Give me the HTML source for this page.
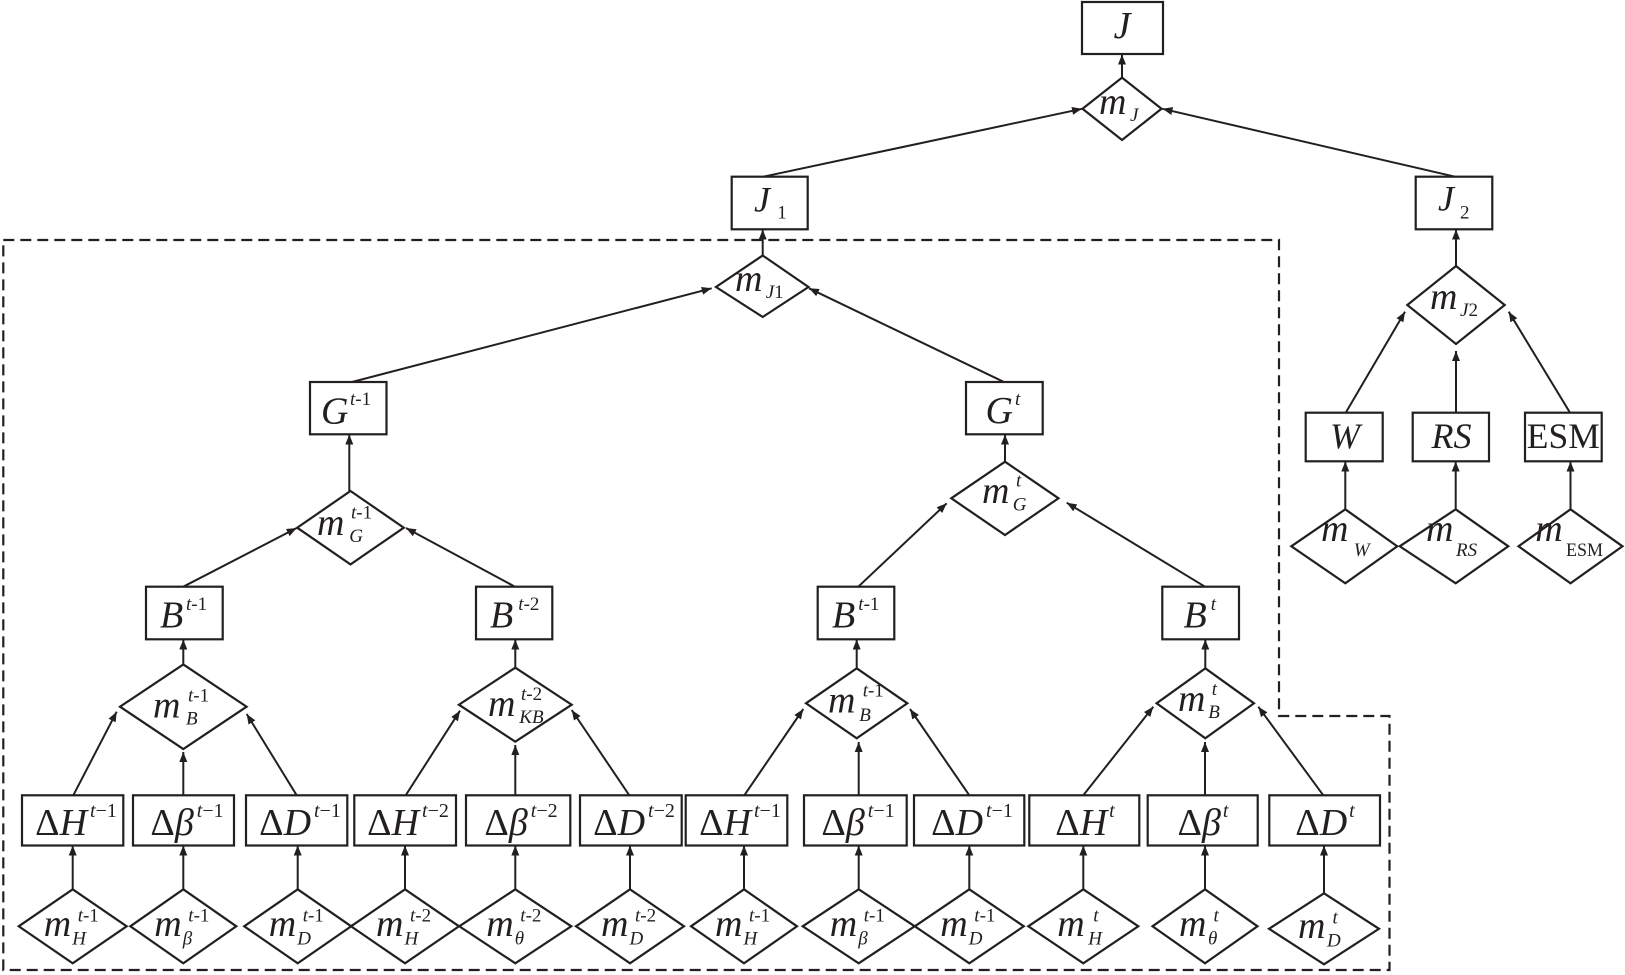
<!DOCTYPE html>
<html>
<head>
<meta charset="utf-8">
<style>
html,body{margin:0;padding:0;background:#fff;}
svg{display:block;}
text{font-family:"Liberation Serif","DejaVu Serif",serif;fill:#231f20;}
.n{fill:#fff;stroke:#231f20;stroke-width:2.2;}
.l{stroke:#231f20;stroke-width:2;fill:none;}
.d{stroke:#231f20;stroke-width:2.2;fill:none;stroke-dasharray:11 6;}
.i{font-style:italic;}
.m{font-size:38px;font-style:italic;}
.s{font-size:19px;}
.bx{font-size:38px;}
.gb{font-size:38px;}
</style>
</head>
<body>
<svg width="1625" height="975" viewBox="0 0 1625 975" xmlns="http://www.w3.org/2000/svg">
<defs>
<marker id="a" markerUnits="userSpaceOnUse" markerWidth="10" markerHeight="8" refX="10" refY="4" orient="auto" viewBox="0 0 10 8">
<path d="M0,0L10,4L0,8z" fill="#231f20"/>
</marker>
</defs>
<rect x="0" y="0" width="1625" height="975" fill="#fff"/>

<path class="d" d="M3.3,240 H1279 V716 H1389.5 V970 H3.3 Z"/>

<g class="l">
<line x1="1122" y1="77.6" x2="1122" y2="54.5" marker-end="url(#a)"/>
<line x1="763.3" y1="176.7" x2="1082" y2="108.8" marker-end="url(#a)"/>
<line x1="1455" y1="176.7" x2="1162.5" y2="108.8" marker-end="url(#a)"/>
<line x1="762.7" y1="255.5" x2="762.7" y2="229.5" marker-end="url(#a)"/>
<line x1="352" y1="382" x2="711.7" y2="288.3" marker-end="url(#a)"/>
<line x1="1003.3" y1="381.7" x2="809" y2="288.3" marker-end="url(#a)"/>
<line x1="349.3" y1="491" x2="349.3" y2="434.5" marker-end="url(#a)"/>
<line x1="1005" y1="461.7" x2="1005" y2="434.5" marker-end="url(#a)"/>
<line x1="183.3" y1="586.7" x2="296.7" y2="528" marker-end="url(#a)"/>
<line x1="515" y1="586.7" x2="406" y2="528" marker-end="url(#a)"/>
<line x1="858.3" y1="586.7" x2="946.7" y2="503.3" marker-end="url(#a)"/>
<line x1="1205" y1="586.7" x2="1066.7" y2="502.7" marker-end="url(#a)"/>
<line x1="183.3" y1="664.4" x2="183.3" y2="639.5" marker-end="url(#a)"/>
<line x1="515.3" y1="667.7" x2="515.3" y2="639.5" marker-end="url(#a)"/>
<line x1="856.7" y1="668.3" x2="856.7" y2="639.5" marker-end="url(#a)"/>
<line x1="1205.3" y1="668.3" x2="1205.3" y2="639.5" marker-end="url(#a)"/>

<line x1="73.3" y1="795.3" x2="116.7" y2="711.7" marker-end="url(#a)"/>
<line x1="183.3" y1="795.3" x2="183.3" y2="752" marker-end="url(#a)"/>
<line x1="296.7" y1="795.3" x2="246.7" y2="714" marker-end="url(#a)"/>
<line x1="405.7" y1="795.3" x2="460" y2="710.7" marker-end="url(#a)"/>
<line x1="515.3" y1="795.3" x2="515.3" y2="745" marker-end="url(#a)"/>
<line x1="629.3" y1="795.3" x2="571.7" y2="710" marker-end="url(#a)"/>
<line x1="744.3" y1="795.3" x2="803.3" y2="709" marker-end="url(#a)"/>
<line x1="858.7" y1="795.3" x2="858.7" y2="742" marker-end="url(#a)"/>
<line x1="969.3" y1="795.3" x2="910" y2="709" marker-end="url(#a)"/>
<line x1="1083.3" y1="795.3" x2="1153.3" y2="706.7" marker-end="url(#a)"/>
<line x1="1205" y1="795.3" x2="1205" y2="742" marker-end="url(#a)"/>
<line x1="1323.3" y1="795.3" x2="1258.3" y2="706.7" marker-end="url(#a)"/>

<line x1="72.7" y1="889.3" x2="72.7" y2="845.5" marker-end="url(#a)"/>
<line x1="183.3" y1="889.3" x2="183.3" y2="845.5" marker-end="url(#a)"/>
<line x1="297.7" y1="889.3" x2="297.7" y2="845.5" marker-end="url(#a)"/>
<line x1="405" y1="889.3" x2="405" y2="845.5" marker-end="url(#a)"/>
<line x1="515.3" y1="889.3" x2="515.3" y2="845.5" marker-end="url(#a)"/>
<line x1="630" y1="889.3" x2="630" y2="845.5" marker-end="url(#a)"/>
<line x1="744" y1="889.3" x2="744" y2="845.5" marker-end="url(#a)"/>
<line x1="858.7" y1="889.3" x2="858.7" y2="845.5" marker-end="url(#a)"/>
<line x1="969.3" y1="889.3" x2="969.3" y2="845.5" marker-end="url(#a)"/>
<line x1="1083.3" y1="889.3" x2="1083.3" y2="845.5" marker-end="url(#a)"/>
<line x1="1205" y1="889.3" x2="1205" y2="845.5" marker-end="url(#a)"/>
<line x1="1324" y1="893.3" x2="1324" y2="845.5" marker-end="url(#a)"/>

<line x1="1456" y1="266" x2="1456" y2="229.5" marker-end="url(#a)"/>
<line x1="1345.7" y1="412.7" x2="1405" y2="311.7" marker-end="url(#a)"/>
<line x1="1456" y1="412.7" x2="1456" y2="351" marker-end="url(#a)"/>
<line x1="1570" y1="412.7" x2="1508.7" y2="311.7" marker-end="url(#a)"/>
<line x1="1345.3" y1="509.3" x2="1345.3" y2="461.5" marker-end="url(#a)"/>
<line x1="1455.7" y1="509.3" x2="1455.7" y2="461.5" marker-end="url(#a)"/>
<line x1="1570.5" y1="509.3" x2="1570.5" y2="461.5" marker-end="url(#a)"/>
</g>

<rect class="n" x="1082" y="2" width="81" height="52"/>
<rect class="n" x="731.7" y="176.7" width="76" height="52.6"/>
<rect class="n" x="1415.7" y="176.7" width="76.6" height="52.6"/>
<rect class="n" x="310" y="382" width="76.5" height="52.3"/>
<rect class="n" x="966" y="382" width="76.7" height="52.3"/>
<rect class="n" x="146" y="586.7" width="76.7" height="52.6"/>
<rect class="n" x="476" y="586.7" width="76.3" height="52.6"/>
<rect class="n" x="817.7" y="586.7" width="76.6" height="52.6"/>
<rect class="n" x="1162.3" y="586.7" width="76.7" height="52.6"/>
<rect class="n" x="1305.7" y="412.7" width="77" height="48.6"/>
<rect class="n" x="1412.7" y="412.7" width="76.3" height="48.6"/>
<rect class="n" x="1525" y="412.7" width="76.7" height="48.6"/>

<rect class="n" x="22" y="795.3" width="101.3" height="50.2"/>
<rect class="n" x="133" y="795.3" width="101" height="50.2"/>
<rect class="n" x="246" y="795.3" width="101.3" height="50.2"/>
<rect class="n" x="354.3" y="795.3" width="101.7" height="50.2"/>
<rect class="n" x="466" y="795.3" width="104.3" height="50.2"/>
<rect class="n" x="580" y="795.3" width="101.7" height="50.2"/>
<rect class="n" x="685.7" y="795.3" width="101.6" height="50.2"/>
<rect class="n" x="804" y="795.3" width="102.7" height="50.2"/>
<rect class="n" x="914" y="795.3" width="110.3" height="50.2"/>
<rect class="n" x="1029.3" y="795.3" width="110" height="50.2"/>
<rect class="n" x="1147.7" y="795.3" width="110" height="50.2"/>
<rect class="n" x="1269.3" y="795.3" width="110.7" height="50.2"/>

<polygon class="n" points="1122,77.6 1161.5,108.8 1122,140 1082.5,108.8"/>
<polygon class="n" points="762.7,255.5 808.5,287 762.7,317 716,287"/>
<polygon class="n" points="1456,266 1504.7,305 1456,344 1407.3,305"/>
<polygon class="n" points="350.5,491 403.8,527.7 350.5,564.4 297.2,527.7"/>
<polygon class="n" points="1005,461.7 1058.5,498.3 1005,535 951.3,498.3"/>
<polygon class="n" points="183.3,664.4 246.6,706.7 183.3,749 120,706.7"/>
<polygon class="n" points="515.3,667.7 571.7,704.7 515.3,741.7 458.9,704.7"/>
<polygon class="n" points="856.7,668.3 907.3,703.3 856.7,738.3 806,703.3"/>
<polygon class="n" points="1205.3,668.3 1254,703.3 1205.3,738.3 1156.6,703.3"/>

<polygon class="n" points="72.7,889.3 126.7,926.3 72.7,963.3 18.7,926.3"/>
<polygon class="n" points="183.3,889.3 236.3,926.3 183.3,963.3 130.3,926.3"/>
<polygon class="n" points="297.7,889.3 351.2,926.3 297.7,963.3 244.2,926.3"/>
<polygon class="n" points="405,889.3 459,926.3 405,963.3 351,926.3"/>
<polygon class="n" points="515.3,889.3 571.3,926.3 515.3,963.3 459.3,926.3"/>
<polygon class="n" points="630,889.3 684,926.3 630,963.3 576,926.3"/>
<polygon class="n" points="744,889.3 797,926.3 744,963.3 691,926.3"/>
<polygon class="n" points="858.7,889.3 914.7,926.3 858.7,963.3 802.7,926.3"/>
<polygon class="n" points="969.3,889.3 1023.8,926.3 969.3,963.3 914.8,926.3"/>
<polygon class="n" points="1083.3,889.3 1138.3,926.3 1083.3,963.3 1028.3,926.3"/>
<polygon class="n" points="1205,889.3 1257.5,926.3 1205,963.3 1152.5,926.3"/>
<polygon class="n" points="1324,893.3 1379,928.8 1324,964.3 1269,928.8"/>

<polygon class="n" points="1345.3,509.3 1397.3,546.3 1345.3,583.3 1291.3,546.3"/>
<polygon class="n" points="1455.7,509.3 1508.3,546.3 1455.7,583.3 1399.7,546.3"/>
<polygon class="n" points="1570.5,509.3 1622.5,546.3 1570.5,583.3 1518.5,546.3"/>

<text x="1122" y="38" class="bx i" text-anchor="middle">J</text>
<text x="754" y="211.7" class="i" font-size="36">J</text>
<text x="777.3" y="218.3" class="s">1</text>
<text x="1438" y="210.5" class="i" font-size="36">J</text>
<text x="1460" y="218.3" class="s">2</text>

<text x="321" y="423.3" class="gb i">G</text>
<text x="350" y="405" class="s"><tspan class="i">t</tspan>-1</text>
<text x="985.5" y="423" class="gb i">G</text>
<text x="1015" y="405" class="s i">t</text>

<text x="160" y="627.7" class="gb i">B</text>
<text x="186" y="610" class="s"><tspan class="i">t</tspan>-1</text>
<text x="490" y="627.7" class="gb i">B</text>
<text x="518.3" y="610" class="s"><tspan class="i">t</tspan>-2</text>
<text x="832" y="627.7" class="gb i">B</text>
<text x="858.3" y="610" class="s"><tspan class="i">t</tspan>-1</text>
<text x="1183.5" y="627.7" class="gb i">B</text>
<text x="1210.7" y="610" class="s i">t</text>

<text x="1345" y="448" class="i" font-size="36" text-anchor="middle">W</text>
<text x="1451.5" y="448" class="i" font-size="36" text-anchor="middle">RS</text>
<text x="1563.3" y="448" font-size="36" text-anchor="middle" textLength="73" lengthAdjust="spacingAndGlyphs">ESM</text>

<text x="76" y="835" class="bx" text-anchor="middle">Δ<tspan class="i">H</tspan><tspan font-size="20" dx="3" dy="-18"><tspan class="i">t</tspan>−1</tspan></text>
<text x="187" y="835" class="bx" text-anchor="middle">Δ<tspan class="i">β</tspan><tspan font-size="20" dx="3" dy="-18"><tspan class="i">t</tspan>−1</tspan></text>
<text x="300" y="835" class="bx" text-anchor="middle">Δ<tspan class="i">D</tspan><tspan font-size="20" dx="3" dy="-18"><tspan class="i">t</tspan>−1</tspan></text>
<text x="408" y="835" class="bx" text-anchor="middle">Δ<tspan class="i">H</tspan><tspan font-size="20" dx="3" dy="-18"><tspan class="i">t</tspan>−2</tspan></text>
<text x="521" y="835" class="bx" text-anchor="middle">Δ<tspan class="i">β</tspan><tspan font-size="20" dx="3" dy="-18"><tspan class="i">t</tspan>−2</tspan></text>
<text x="634" y="835" class="bx" text-anchor="middle">Δ<tspan class="i">D</tspan><tspan font-size="20" dx="3" dy="-18"><tspan class="i">t</tspan>−2</tspan></text>
<text x="740" y="835" class="bx" text-anchor="middle">Δ<tspan class="i">H</tspan><tspan font-size="20" dx="3" dy="-18"><tspan class="i">t</tspan>−1</tspan></text>
<text x="858" y="835" class="bx" text-anchor="middle">Δ<tspan class="i">β</tspan><tspan font-size="20" dx="3" dy="-18"><tspan class="i">t</tspan>−1</tspan></text>
<text x="972" y="835" class="bx" text-anchor="middle">Δ<tspan class="i">D</tspan><tspan font-size="20" dx="3" dy="-18"><tspan class="i">t</tspan>−1</tspan></text>
<text x="1085" y="835" class="bx" text-anchor="middle">Δ<tspan class="i">H</tspan><tspan font-size="20" class="i" dx="2" dy="-18">t</tspan></text>
<text x="1203" y="835" class="bx" text-anchor="middle">Δ<tspan class="i">β</tspan><tspan font-size="20" class="i" dx="2" dy="-18">t</tspan></text>
<text x="1325" y="835" class="bx" text-anchor="middle">Δ<tspan class="i">D</tspan><tspan font-size="20" class="i" dx="2" dy="-18">t</tspan></text>

<text x="1099" y="114" class="m" font-size="36">m</text>
<text x="1130" y="121" class="s i">J</text>
<text x="735" y="291" class="m" font-size="36">m</text>
<text x="765.7" y="298" class="s"><tspan class="i">J</tspan>1</text>
<text x="1430" y="309" class="m" font-size="36">m</text>
<text x="1460" y="316" class="s"><tspan class="i">J</tspan>2</text>

<text x="317" y="535" class="m">m</text>
<text x="351" y="518.3" class="s"><tspan class="i">t</tspan>-1</text>
<text x="349.3" y="542" class="s i">G</text>

<text x="982" y="503" class="m">m</text>
<text x="1016" y="486.7" class="s i">t</text>
<text x="1012.7" y="510.5" class="s i">G</text>

<text x="153" y="717.5" class="m">m</text>
<text x="188" y="701.7" class="s"><tspan class="i">t</tspan>-1</text>
<text x="186" y="724.5" class="s i">B</text>

<text x="488" y="716" class="m">m</text>
<text x="521" y="700" class="s"><tspan class="i">t</tspan>-2</text>
<text x="519.3" y="723" class="s i">KB</text>

<text x="828" y="712.5" class="m">m</text>
<text x="862.7" y="696.7" class="s"><tspan class="i">t</tspan>-1</text>
<text x="859.3" y="721" class="s i">B</text>

<text x="1178" y="711" class="m">m</text>
<text x="1211.7" y="695" class="s i">t</text>
<text x="1208.3" y="718" class="s i">B</text>

<text x="43.7" y="936" class="m">m</text>
<text x="77.7" y="921.7" class="s"><tspan class="i">t</tspan>-1</text>
<text x="72.2" y="944.5" class="s i">H</text>

<text x="154.3" y="936" class="m">m</text>
<text x="188.3" y="921.7" class="s"><tspan class="i">t</tspan>-1</text>
<text x="182.8" y="944.5" class="s i">β</text>

<text x="268.7" y="936" class="m">m</text>
<text x="302.7" y="921.7" class="s"><tspan class="i">t</tspan>-1</text>
<text x="297.2" y="944.5" class="s i">D</text>

<text x="376" y="936" class="m">m</text>
<text x="410" y="921.7" class="s"><tspan class="i">t</tspan>-2</text>
<text x="404.5" y="944.5" class="s i">H</text>

<text x="486.3" y="936" class="m">m</text>
<text x="520.3" y="921.7" class="s"><tspan class="i">t</tspan>-2</text>
<text x="514.8" y="944.5" class="s i">θ</text>

<text x="601" y="936" class="m">m</text>
<text x="635" y="921.7" class="s"><tspan class="i">t</tspan>-2</text>
<text x="629.5" y="944.5" class="s i">D</text>

<text x="715" y="936" class="m">m</text>
<text x="749" y="921.7" class="s"><tspan class="i">t</tspan>-1</text>
<text x="743.5" y="944.5" class="s i">H</text>

<text x="829.7" y="936" class="m">m</text>
<text x="863.7" y="921.7" class="s"><tspan class="i">t</tspan>-1</text>
<text x="858.2" y="944.5" class="s i">β</text>

<text x="940.3" y="936" class="m">m</text>
<text x="974.3" y="921.7" class="s"><tspan class="i">t</tspan>-1</text>
<text x="968.8" y="944.5" class="s i">D</text>

<text x="1057.3" y="936" class="m">m</text>
<text x="1093.3" y="921.7" class="s i">t</text>
<text x="1088.3" y="944.5" class="s i">H</text>

<text x="1179" y="936" class="m">m</text>
<text x="1213.5" y="921.7" class="s i">t</text>
<text x="1208" y="944.5" class="s i">θ</text>

<text x="1298" y="938" class="m">m</text>
<text x="1332.5" y="923.7" class="s i">t</text>
<text x="1327" y="946.5" class="s i">D</text>

<text x="1321" y="541" class="m">m</text>
<text x="1353.7" y="556" class="s i">W</text>
<text x="1426" y="541" class="m">m</text>
<text x="1456" y="556" class="s i">RS</text>
<text x="1535.3" y="541" class="m">m</text>
<text x="1566" y="556" class="s" textLength="37" lengthAdjust="spacingAndGlyphs">ESM</text>
</svg>
</body>
</html>
